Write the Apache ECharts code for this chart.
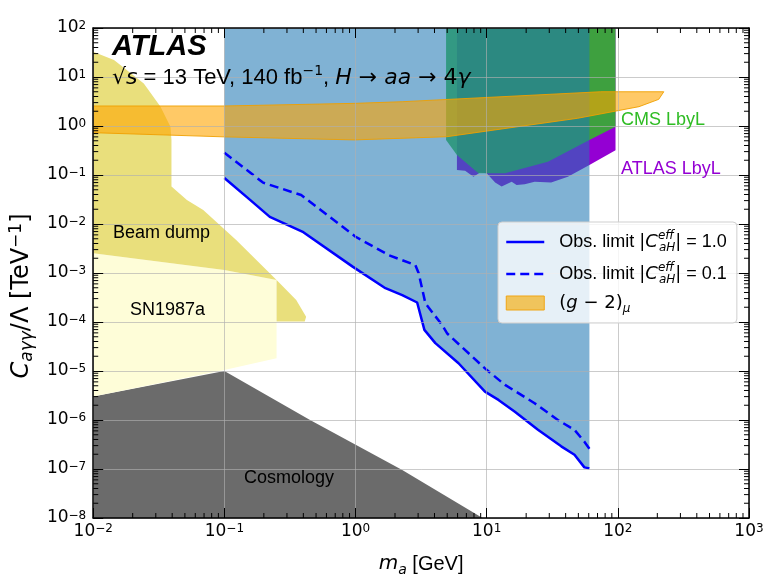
<!DOCTYPE html>
<html><head><meta charset="utf-8">
<script src="https://cdn.jsdelivr.net/npm/echarts@6/dist/echarts.min.js"></script>
<style>html,body{margin:0;padding:0;background:#fff}#c{width:768px;height:583px}</style>
</head><body><div id="c"></div>
<script>
const SANS = '"Liberation Sans", Arial, Helvetica, sans-serif';
const MATH = '"DejaVu Sans", sans-serif';

// ---- data ----
// Observed limit |C_aH^eff| = 1.0 (solid)
const obs1X = [0.1, 0.157, 0.222, 0.40, 0.95, 1.69, 2.27, 2.95, 3.35, 4.06, 6.1, 9.7, 12.3, 16.4, 24.6, 37, 46.7, 55.6, 60.7];
const obs1Y = [0.087, 0.031, 0.014, 0.0068, 0.00135, 4.9e-4, 3.55e-4, 2.5e-4, 6.9e-5, 3.7e-5, 1.44e-5, 3.8e-6, 2.57e-6, 1.48e-6, 6.3e-7, 2.9e-7, 1.95e-7, 1.08e-7, 1.03e-7];
// Observed limit |C_aH^eff| = 0.1 (dashed)
const obs01X = [0.1, 0.197, 0.385, 1.0, 1.8, 2.86, 3.03, 3.41, 4.57, 4.98, 9.7, 13.8, 23.2, 34.9, 46.7, 55.6, 60.7];
const obs01Y = [0.285, 0.07, 0.039, 0.0055, 0.0023, 0.00145, 9.9e-4, 2.4e-4, 8.7e-5, 5.9e-5, 1.13e-5, 5.2e-6, 2.2e-6, 1.0e-6, 6.3e-7, 3.6e-7, 2.6e-7];
// CMS LbyL excluded region (lower boundary, open to the top)
const cmsX = [4.9, 4.9, 5.93, 8.65, 13.8, 29.3, 60.7, 96, 96];
const cmsY = [100, 0.52, 0.256, 0.108, 0.108, 0.187, 0.52, 0.97, 100];
// ATLAS LbyL excluded region
const lbylX = [5.93, 5.93, 6.85, 7.93, 8.9, 10, 11.6, 13, 15.5, 16.9, 19.5, 23.2, 31, 41.6, 60.7, 96, 96];
const lbylY = [100, 0.126, 0.122, 0.092, 0.112, 0.108, 0.07, 0.058, 0.073, 0.0625, 0.0645, 0.073, 0.07, 0.092, 0.16, 0.32, 100];
// (g-2)_mu band (upper edge then lower edge)
const g2X = [0.01, 0.1, 1.0, 2.27, 74, 224, 205, 145, 49.5, 4.97, 0.98, 0.1, 0.01];
const g2Y = [2.56, 2.56, 2.9, 3.13, 5.0, 5.0, 3.5, 2.48, 1.44, 0.605, 0.52, 0.6, 0.73];
// Beam dump
const beamX = [0.01, 0.0144, 0.0243, 0.0326, 0.0388, 0.0395, 0.0395, 0.0518, 0.069, 0.123, 0.25, 0.353, 0.42, 0.41, 0.25, 0.25, 0.1, 0.01];
const beamY = [32.8, 22.2, 7.4, 2.48, 0.97, 0.52, 0.058, 0.031, 0.0193, 4.7e-3, 7.2e-4, 2.8e-4, 1.28e-4, 1.02e-4, 1.02e-4, 7.2e-4, 1.15e-3, 2.52e-3];
// SN1987a
const snX = [0.01, 0.1, 0.25, 0.25, 0.1, 0.01];
const snY = [2.52e-3, 1.15e-3, 7.2e-4, 1.82e-5, 1.05e-5, 3e-6];
// Cosmology
const cosmoX = [0.01, 0.01, 0.1, 0.45, 2.27, 9.3];
const cosmoY = [1e-8, 3e-6, 1e-5, 1e-6, 9.5e-8, 1e-8];

const X_MIN = 0.01, X_MAX = 1000, Y_MIN = 1e-8, Y_MAX = 100;

// blue excluded region: above the solid limit
const blueX = [obs1X[0]].concat(obs1X, [obs1X[obs1X.length - 1]]);
const blueY = [Y_MAX].concat(obs1Y, [Y_MAX]);

// minor tick positions (2..9 x 10^k)
const minorX = [], minorY = [];
for (let e = -2; e <= 2; e++) for (let m = 2; m <= 9; m++) minorX.push(m * Math.pow(10, e));
for (let e = -8; e <= 1; e++) for (let m = 2; m <= 9; m++) minorY.push(m * Math.pow(10, e));

function polygon(name, xs, ys, z, style) {
  return {
    type: 'custom', name: name, z: z, silent: true, clip: true,
    data: [[xs[0], ys[0]]],
    renderItem: function (params, api) {
      const pts = xs.map((x, i) => api.coord([x, ys[i]]));
      return { type: 'polygon', shape: { points: pts }, style: style };
    }
  };
}

function tickLabel(v) {
  const e = Math.round(Math.log10(v));
  return '{b|10}{e|' + (e < 0 ? '\u2212' + (-e) : '' + e) + '}';
}
const tickRich = {
  b: { fontFamily: MATH, fontSize: 17, lineHeight: 17, verticalAlign: 'bottom', color: '#000' },
  e: { fontFamily: MATH, fontSize: 12, lineHeight: 12, verticalAlign: 'top', padding: [0, 0, 12, 0], color: '#000' }
};
const axLine = { show: true, onZero: false, lineStyle: { color: '#000', width: 1.5 } };
const axTick = { show: true, inside: true, length: 10, lineStyle: { color: '#000', width: 1 } };
const grid = { show: true, lineStyle: { color: 'rgba(175,175,175,0.65)', width: 1 } };

const txtRich = {
  n: { fontFamily: SANS, fontSize: 18, lineHeight: 24, color: '#000' },
  m: { fontFamily: MATH, fontSize: 18, lineHeight: 24, color: '#000' },
  i: { fontFamily: MATH, fontStyle: 'italic', fontSize: 18, lineHeight: 24, color: '#000' },
  sp: { width: 10 },
  sup: { fontFamily: MATH, fontStyle: 'italic', fontSize: 12, lineHeight: 12, verticalAlign: 'top', width: 1, color: '#000' },
  sub: { fontFamily: MATH, fontStyle: 'italic', fontSize: 12, lineHeight: 12, verticalAlign: 'bottom', color: '#000' },
  subu: { fontFamily: MATH, fontStyle: 'italic', fontSize: 12, lineHeight: 12, verticalAlign: 'bottom', color: '#000' }
};
const legendText = {
  obs1: '{sp|}{n|Obs. limit }{m||}{i|C}{sup|eff}{sub|aH}{m||}{n| = 1.0}',
  obs01: '{sp|}{n|Obs. limit }{m||}{i|C}{sup|eff}{sub|aH}{m||}{n| = 0.1}',
  g2: '{sp|}{m|(}{i|g}{m| \u2212 2)}{subu|\u03bc}'
};
const hiddenSymbol = { color: 'rgba(0,0,0,0)', borderWidth: 0, opacity: 0 };

const chart = echarts.init(document.getElementById('c'), null, { renderer: 'canvas' });
chart.setOption({
  animation: false,
  backgroundColor: '#fff',
  grid: { left: 89, right: 19, top: 28, bottom: 65 },
  xAxis: [
    {
      type: 'log', logBase: 10, min: X_MIN, max: X_MAX, interval: 1, position: 'bottom', z: 10,
      axisLine: axLine, axisTick: axTick, splitLine: grid,
      axisLabel: { formatter: tickLabel, rich: tickRich, margin: 5 },
      name: '{i|m}{s|a}{n| [GeV]}', nameLocation: 'middle', nameGap: 33,
      nameTextStyle: { rich: {
        i: { fontFamily: MATH, fontStyle: 'italic', fontSize: 20, lineHeight: 26, color: '#000' },
        s: { fontFamily: MATH, fontStyle: 'italic', fontSize: 14, lineHeight: 14, verticalAlign: 'bottom', color: '#000' },
        n: { fontFamily: SANS, fontSize: 20, lineHeight: 26, color: '#000' } } }
    },
    {
      type: 'log', logBase: 10, min: X_MIN, max: X_MAX, interval: 1, position: 'top', z: 10,
      axisLine: axLine, axisTick: axTick, splitLine: { show: false }, axisLabel: { show: false }
    }
  ],
  yAxis: [
    {
      type: 'log', logBase: 10, min: Y_MIN, max: Y_MAX, interval: 1, position: 'left', z: 10,
      axisLine: axLine, axisTick: axTick, splitLine: grid,
      axisLabel: { formatter: tickLabel, rich: tickRich, margin: 7 },
      name: '{i|C}{s|a\u03b3\u03b3}{m|/\u039b [TeV}{p|\u22121}{m|]}',
      nameLocation: 'middle', nameRotate: 90, nameGap: 48,
      nameTextStyle: { padding: [0, 46, 0, 0], rich: {
        i: { fontFamily: MATH, fontStyle: 'italic', fontSize: 24, lineHeight: 28, color: '#000' },
        s: { fontFamily: MATH, fontStyle: 'italic', fontSize: 17, lineHeight: 16, verticalAlign: 'bottom', color: '#000' },
        m: { fontFamily: MATH, fontSize: 24, lineHeight: 28, color: '#000' },
        p: { fontFamily: MATH, fontSize: 17, lineHeight: 16, verticalAlign: 'top', color: '#000' } } }
    },
    {
      type: 'log', logBase: 10, min: Y_MIN, max: Y_MAX, interval: 1, position: 'right', z: 10,
      axisLine: axLine, axisTick: axTick, splitLine: { show: false }, axisLabel: { show: false }
    }
  ],
  legend: {
    orient: 'vertical', left: 498, top: 222, z: 12,
    itemWidth: 38, itemHeight: 14, itemGap: 8,
    padding: [8, 10, 8, 7],
    backgroundColor: 'rgba(255,255,255,0.8)', borderColor: '#cfcfcf', borderWidth: 1, borderRadius: 4,
    selectedMode: false,
    formatter: function (name) { return legendText[name]; },
    textStyle: { rich: txtRich },
    data: [
      { name: 'obs1', itemStyle: hiddenSymbol, lineStyle: { color: '#0000ff', width: 2.5 } },
      { name: 'obs01', itemStyle: hiddenSymbol, lineStyle: { color: '#0000ff', width: 2.5, type: [9, 5] } },
      { name: 'g2', icon: 'rect', itemStyle: { color: 'rgba(240,196,92,1)', borderColor: 'rgba(240,165,20,1)', borderWidth: 1 } }
    ]
  },
  graphic: [
    { type: 'text', z: 30, style: { x: 112, y: 47, text: 'ATLAS', font: 'italic bold 29px ' + SANS, fill: '#000', verticalAlign: 'middle' } },
    { type: 'text', z: 30, style: { x: 112, y: 78, verticalAlign: 'middle',
      text: '{m|\u221a}{i|s}{n| = 13 TeV, 140 fb}{p|\u22121}{n|, }{i|H}{m| \u2192 }{i|aa}{m| \u2192 4}{i|\u03b3}',
      rich: {
        n: { fontFamily: SANS, fontSize: 22, lineHeight: 28, fill: '#000' },
        m: { fontFamily: MATH, fontSize: 22, lineHeight: 28, fill: '#000' },
        i: { fontFamily: MATH, fontStyle: 'italic', fontSize: 22, lineHeight: 28, fill: '#000' },
        p: { fontFamily: MATH, fontSize: 14, lineHeight: 14, verticalAlign: 'top', fill: '#000' } } } },
    { type: 'text', z: 30, style: { x: 621, y: 120, text: 'CMS LbyL', font: '18px ' + SANS, fill: '#2fbc24', verticalAlign: 'middle' } },
    { type: 'text', z: 30, style: { x: 621, y: 169, text: 'ATLAS LbyL', font: '18px ' + SANS, fill: '#9400d3', verticalAlign: 'middle' } },
    { type: 'text', z: 30, style: { x: 113, y: 233, text: 'Beam dump', font: '18px ' + SANS, fill: '#000', verticalAlign: 'middle' } },
    { type: 'text', z: 30, style: { x: 130, y: 310, text: 'SN1987a', font: '18px ' + SANS, fill: '#000', verticalAlign: 'middle' } },
    { type: 'text', z: 30, style: { x: 244, y: 478, text: 'Cosmology', font: '18px ' + SANS, fill: '#000', verticalAlign: 'middle' } }
  ],
  series: [
    polygon('cosmo', cosmoX, cosmoY, 1, { fill: '#6b6b6b' }),
    polygon('sn', snX, snY, 1, { fill: '#fefdd8' }),
    polygon('beam', beamX, beamY, 1, { fill: '#e9df7c' }),
    polygon('lbyl', lbylX, lbylY, 2, { fill: '#9400d3' }),
    polygon('cms', cmsX, cmsY, 3, { fill: 'rgba(47,188,36,0.85)' }),
    polygon('blue', blueX, blueY, 4, { fill: 'rgba(31,119,180,0.57)' }),
    Object.assign(polygon('g2', g2X, g2Y, 5, { fill: 'rgba(255,165,0,0.6)', stroke: 'rgba(240,160,0,0.9)', lineWidth: 1 }),
      { itemStyle: { color: 'rgba(240,196,92,1)' } }),
    {
      type: 'line', name: 'obs1', z: 6, symbol: 'none', clip: true,
      data: obs1X.map((x, i) => [x, obs1Y[i]]),
      lineStyle: { color: '#0000ff', width: 2.5 }, itemStyle: { color: '#0000ff' }
    },
    {
      type: 'line', name: 'obs01', z: 6, symbol: 'none', clip: true,
      data: obs01X.map((x, i) => [x, obs01Y[i]]),
      lineStyle: { color: '#0000ff', width: 2.5, type: [9, 5] }, itemStyle: { color: '#0000ff' }
    },
    {
      type: 'custom', name: 'minorX', z: 11, silent: true,
      data: minorX.map(v => [v, Y_MIN]),
      renderItem: function (params, api) {
        const v = api.value(0);
        const b = api.coord([v, Y_MIN]), t = api.coord([v, Y_MAX]);
        const st = { stroke: '#000', lineWidth: 1 };
        return { type: 'group', children: [
          { type: 'line', shape: { x1: b[0], y1: b[1], x2: b[0], y2: b[1] - 5 }, style: st },
          { type: 'line', shape: { x1: t[0], y1: t[1], x2: t[0], y2: t[1] + 5 }, style: st } ] };
      }
    },
    {
      type: 'custom', name: 'minorY', z: 11, silent: true,
      data: minorY.map(v => [X_MIN, v]),
      renderItem: function (params, api) {
        const v = api.value(1);
        const l = api.coord([X_MIN, v]), r = api.coord([X_MAX, v]);
        const st = { stroke: '#000', lineWidth: 1 };
        return { type: 'group', children: [
          { type: 'line', shape: { x1: l[0], y1: l[1], x2: l[0] + 5, y2: l[1] }, style: st },
          { type: 'line', shape: { x1: r[0], y1: r[1], x2: r[0] - 5, y2: r[1] }, style: st } ] };
      }
    }
  ]
});
</script>
</body></html>
